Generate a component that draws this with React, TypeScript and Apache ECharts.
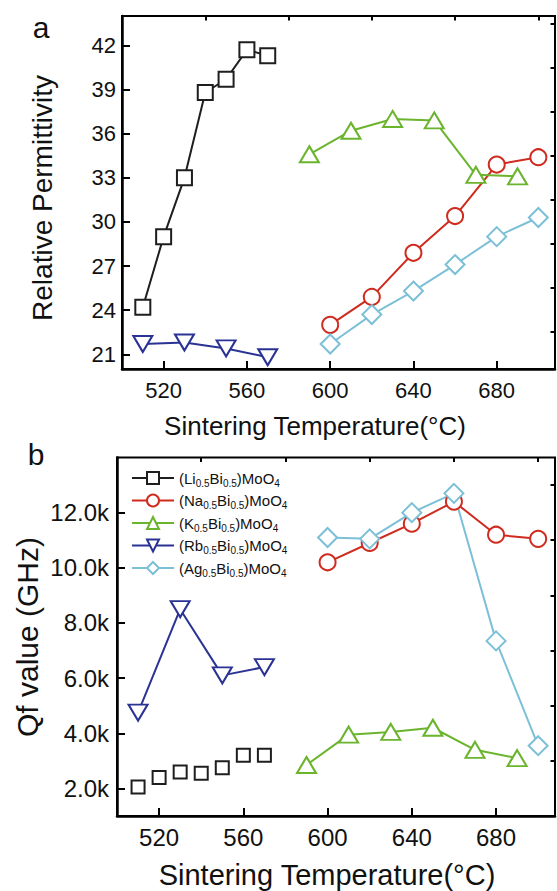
import React, { useEffect, useRef } from 'react';
import * as echarts from 'echarts';

// Sintering temperatures (°C) for each compound
const liTemps = [510, 520, 530, 540, 550, 560, 570];
const naTemps = [600, 620, 640, 660, 680, 700];
const kTemps = [590, 610, 630, 650, 670, 690];
const rbTemps = [510, 530, 550, 570];
const agTemps = [600, 620, 640, 660, 680, 700];

// (a) Relative permittivity
const liPerm = [24.2, 29.0, 33.0, 38.8, 39.7, 41.7, 41.3];
const naPerm = [23.0, 24.9, 27.9, 30.4, 33.9, 34.4];
const kPerm = [34.6, 36.2, 37.0, 36.9, 33.2, 33.1];
const rbPerm = [21.7, 21.8, 21.4, 20.8];
const agPerm = [21.7, 23.7, 25.3, 27.1, 29.0, 30.3];

// (b) Qf value (GHz)
const liQf = [2050, 2400, 2600, 2550, 2750, 3200, 3200];
const naQf = [10200, 10900, 11600, 12400, 11200, 11050];
const kQf = [2850, 3950, 4050, 4200, 3400, 3100];
const rbQf = [4750, 8500, 6100, 6400];
const agQf = [11100, 11050, 12000, 12700, 7350, 3550];

// Tick values
const tempMajorTicks = [520, 560, 600, 640, 680];
const tempMinorTicks = [540, 580, 620, 660, 700];
const permMajorTicks = [21, 24, 27, 30, 33, 36, 39, 42];
const permMinorTicks = [22.5, 25.5, 28.5, 31.5, 34.5, 37.5, 40.5, 43.5];
const qfMajorTicks = [2000, 4000, 6000, 8000, 10000, 12000];
const qfMinorTicks = [3000, 5000, 7000, 9000, 11000, 13000];

const names = [
  '(Li0.5Bi0.5)MoO4',
  '(Na0.5Bi0.5)MoO4',
  '(K0.5Bi0.5)MoO4',
  '(Rb0.5Bi0.5)MoO4',
  '(Ag0.5Bi0.5)MoO4',
];

const FONT = "'Liberation Sans', Arial, Helvetica, sans-serif";
const colors = ['#1e1e1e', '#cf2b1f', '#6ab42e', '#2a3393', '#7cc0d8'];

const pairs = (xs: number[], ys: number[]) => xs.map((x, i) => [x, ys[i]]);

function majorX(gridIndex: number, fontSize: number, margin: number) {
  return {
    type: 'value', gridIndex, min: 500, max: 708,
    axisLine: { show: true, onZero: false, lineStyle: { color: '#000', width: 2.5 } },
    axisTick: { show: true, inside: true, length: 8, customValues: tempMajorTicks, lineStyle: { color: '#000', width: 2 } },
    axisLabel: { show: true, customValues: tempMajorTicks, fontSize, margin, color: '#111', fontFamily: FONT },
    splitLine: { show: false },
  };
}
function minorX(gridIndex: number) {
  return {
    type: 'value', gridIndex, min: 500, max: 708,
    axisLine: { show: false, onZero: false },
    axisTick: { show: true, inside: true, length: 4.5, customValues: tempMinorTicks, lineStyle: { color: '#000', width: 2 } },
    axisLabel: { show: false },
    splitLine: { show: false },
  };
}
function majorY(gridIndex: number, min: number, max: number, ticks: number[], fontSize: number, margin: number, fmt?: (v: number) => string) {
  return {
    type: 'value', gridIndex, min, max,
    axisLine: { show: true, onZero: false, lineStyle: { color: '#000', width: 2.5 } },
    axisTick: { show: true, inside: true, length: 8, customValues: ticks, lineStyle: { color: '#000', width: 2 } },
    axisLabel: { show: true, customValues: ticks, fontSize, margin, color: '#111', fontFamily: FONT, formatter: fmt },
    splitLine: { show: false },
  };
}
function minorY(gridIndex: number, min: number, max: number, ticks: number[]) {
  return {
    type: 'value', gridIndex, min, max,
    axisLine: { show: false, onZero: false },
    axisTick: { show: true, inside: true, length: 4.5, customValues: ticks, lineStyle: { color: '#000', width: 2 } },
    axisLabel: { show: false },
    splitLine: { show: false },
  };
}

const symbolsTop: any[] = [
  { symbol: 'emptyRect', size: 15 },
  { symbol: 'emptyCircle', size: 16 },
  { symbol: 'emptyTriangle', size: [19, 16] },
  { symbol: 'emptyTriangle', size: [19, 16], rotate: 180 },
  { symbol: 'emptyDiamond', size: 19 },
];
const symbolsBottom: any[] = [
  { symbol: 'emptyRect', size: 13 },
  { symbol: 'emptyCircle', size: 16 },
  { symbol: 'emptyTriangle', size: [19, 16] },
  { symbol: 'emptyTriangle', size: [19, 16], rotate: 180 },
  { symbol: 'emptyDiamond', size: 19 },
];

function makeSeries(idx: number, xs: number[], ys: number[], grid: number, hideLine = false) {
  const sym = grid === 0 ? symbolsTop[idx] : symbolsBottom[idx];
  return {
    type: 'line',
    name: names[idx],
    xAxisIndex: grid === 0 ? 0 : 2,
    yAxisIndex: grid === 0 ? 0 : 2,
    data: pairs(xs, ys),
    symbol: sym.symbol,
    symbolSize: sym.size,
    symbolRotate: sym.rotate || 0,
    showAllSymbol: true,
    lineStyle: { color: colors[idx], width: 2, opacity: hideLine ? 0 : 1 },
    itemStyle: { color: colors[idx], borderWidth: 2 },
    emphasis: { disabled: true },
    z: 3,
  };
}

export default function App() {
  const ref = useRef<HTMLDivElement>(null);
  useEffect(() => {
    document.body.style.margin = '0';
    if (!ref.current) return;
    const chart = echarts.init(ref.current, undefined, { renderer: 'svg' });
    const option: any = {
      animation: false,
      backgroundColor: '#fff',
      grid: [
        { left: 122, top: 16, width: 433, height: 353, show: true, borderColor: '#000', borderWidth: 2, backgroundColor: 'transparent' },
        { left: 117, top: 457.5, width: 438, height: 358.5, show: true, borderColor: '#000', borderWidth: 2, backgroundColor: 'transparent' },
      ],
      xAxis: [majorX(0, 22, 10), minorX(0), majorX(1, 24, 9), minorX(1)],
      yAxis: [
        majorY(0, 20, 44, permMajorTicks, 22, 6),
        minorY(0, 20, 44, permMinorTicks),
        majorY(1, 1000, 14000, qfMajorTicks, 24, 8, (v: number) => (v / 1000).toFixed(1) + 'k'),
        minorY(1, 1000, 14000, qfMinorTicks),
      ],
      legend: {
        show: true,
        orient: 'vertical',
        left: 126,
        top: 463,
        itemWidth: 42,
        itemHeight: 15,
        itemGap: 2.5,
        data: names,
        selectedMode: false,
        formatter: (name: string) => name.replace('MoO4', 'MoO{s|4}').replace(/0\.5/g, '{s|0.5}'),
        textStyle: {
          fontSize: 15, lineHeight: 20, color: '#111', fontFamily: FONT,
          rich: { s: { fontSize: 10, lineHeight: 10, verticalAlign: 'bottom', color: '#111', fontFamily: FONT } },
        },
      },
      series: [
        makeSeries(0, liTemps, liPerm, 0),
        makeSeries(1, naTemps, naPerm, 0),
        makeSeries(2, kTemps, kPerm, 0),
        makeSeries(3, rbTemps, rbPerm, 0),
        makeSeries(4, agTemps, agPerm, 0),
        makeSeries(0, liTemps, liQf, 1, true),
        makeSeries(1, naTemps, naQf, 1),
        makeSeries(2, kTemps, kQf, 1),
        makeSeries(3, rbTemps, rbQf, 1),
        makeSeries(4, agTemps, agQf, 1),
      ],
      graphic: [
        { type: 'text', x: 41, y: 27, style: { text: 'a', fontSize: 30, fontFamily: FONT, fill: '#111', align: 'center', verticalAlign: 'middle' } },
        { type: 'text', x: 36, y: 454, style: { text: 'b', fontSize: 30, fontFamily: FONT, fill: '#111', align: 'center', verticalAlign: 'middle' } },
        { type: 'text', x: 42, y: 198, rotation: Math.PI / 2, style: { text: 'Relative Permittivity', fontSize: 28, fontFamily: FONT, fill: '#111', align: 'center', verticalAlign: 'middle' } },
        { type: 'text', x: 315, y: 426, style: { text: 'Sintering Temperature(°C)', fontSize: 26, fontFamily: FONT, fill: '#111', align: 'center', verticalAlign: 'middle' } },
        { type: 'text', x: 27, y: 637, rotation: Math.PI / 2, style: { text: 'Qf value (GHz)', fontSize: 30, fontFamily: FONT, fill: '#111', align: 'center', verticalAlign: 'middle' } },
        { type: 'text', x: 327, y: 875, style: { text: 'Sintering Temperature(°C)', fontSize: 29, fontFamily: FONT, fill: '#111', align: 'center', verticalAlign: 'middle' } },
      ],
    };
    chart.setOption(option);
    return () => chart.dispose();
  }, []);
  return <div ref={ref} style={{ width: 557, height: 891 }} />;
}
